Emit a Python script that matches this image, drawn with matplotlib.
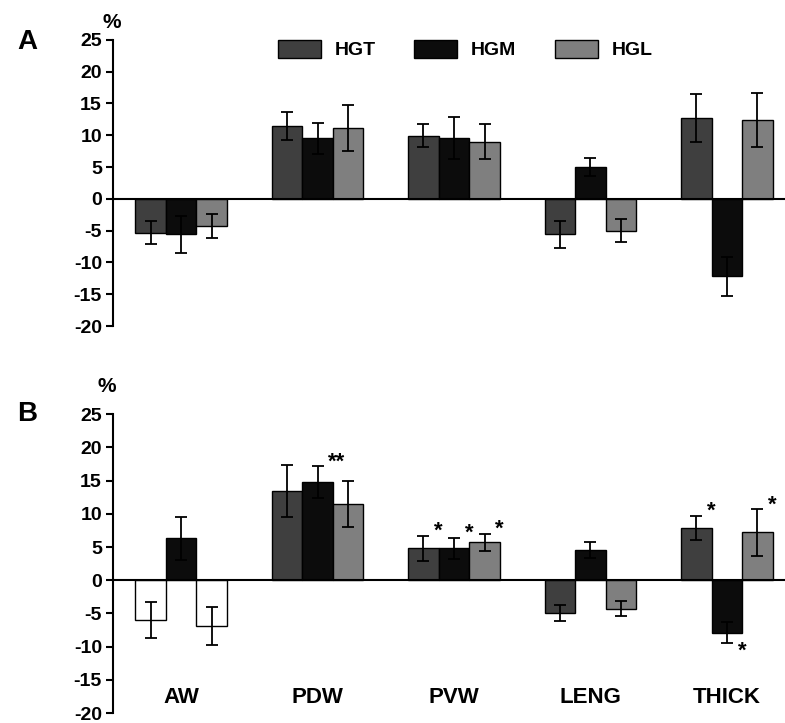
import numpy as np
import matplotlib
matplotlib.use("Agg")
import matplotlib.pyplot as plt
from matplotlib.patches import Patch

plt.rcParams["font.family"] = ["Liberation Sans", "DejaVu Sans"]
plt.rcParams["font.weight"] = "bold"
plt.rcParams["axes.unicode_minus"] = False

# data
categories = ["AW", "PDW", "PVW", "LENG", "THICK"]
series = ["HGT", "HGM", "HGL"]

# panel A
a_hgt = [-5.3, 11.4, 9.9, -5.6, 12.7]
a_hgt_err = [1.8, 2.2, 1.8, 2.1, 3.8]
a_hgm = [-5.6, 9.5, 9.5, 5.0, -12.2]
a_hgm_err = [2.9, 2.4, 3.3, 1.4, 3.0]
a_hgl = [-4.3, 11.1, 9.0, -5.0, 12.4]
a_hgl_err = [1.9, 3.6, 2.7, 1.8, 4.2]

# panel B
b_hgt = [-6.0, 13.4, 4.8, -5.0, 7.9]
b_hgt_err = [2.7, 3.9, 1.9, 1.2, 1.8]
b_hgm = [6.3, 14.8, 4.8, 4.5, -7.9]
b_hgm_err = [3.3, 2.4, 1.6, 1.2, 1.6]
b_hgl = [-6.9, 11.5, 5.7, -4.3, 7.2]
b_hgl_err = [2.8, 3.5, 1.3, 1.1, 3.5]

# significance marks in panel B: (category, series, text)
b_marks = [("PDW", "HGM", "**"),
           ("PVW", "HGT", "*"), ("PVW", "HGM", "*"), ("PVW", "HGL", "*"),
           ("THICK", "HGT", "*"), ("THICK", "HGM", "*"), ("THICK", "HGL", "*")]
# bars drawn hollow in panel B
b_hollow = [("AW", "HGT"), ("AW", "HGL")]

colors = {"HGT": "#3f3f3f", "HGM": "#0c0c0c", "HGL": "#7f7f7f"}
yticks = [-20, -15, -10, -5, 0, 5, 10, 15, 20, 25]

fig = plt.figure(figsize=(7.85, 7.23), dpi=100)
axA = fig.add_axes([0.144, 0.549, 0.856, 0.396])
axB = fig.add_axes([0.144, 0.0138, 0.856, 0.4132])

w = 0.2235
x = np.arange(len(categories))


def draw_panel(ax, vals, errs, hollow=(), marks=()):
    for i, s in enumerate(series):
        xs = x + (i - 1) * w
        fc = [("white" if (c, s) in hollow else colors[s]) for c in categories]
        ax.bar(xs, vals[i], width=w, color=fc, edgecolor="black", linewidth=1.0, zorder=2)
        ax.errorbar(xs, vals[i], yerr=errs[i], fmt="none", ecolor="black",
                    elinewidth=1.3, capsize=4, capthick=1.3, zorder=3)
    for c, s, txt in marks:
        ci = categories.index(c)
        si = series.index(s)
        v = vals[si][ci]
        e = errs[si][ci]
        xm = x[ci] + (si - 1) * w + 0.11 + 0.03 * (len(txt) - 1)
        if v >= 0:
            ax.annotate(txt, (xm, v + e), xytext=(0, 3), textcoords="offset points",
                        ha="center", va="center", fontsize=16)
        else:
            ax.annotate(txt, (xm, v - e), xytext=(0, -6), textcoords="offset points",
                        ha="center", va="center", fontsize=16)
    ax.axhline(0, color="black", linewidth=1.5, zorder=4)
    ax.set_xlim(-0.498, 4.425)
    ax.set_ylim(-20, 25)
    ax.set_yticks(yticks)
    ax.set_xticks([])
    for sp in ["top", "right", "bottom"]:
        ax.spines[sp].set_visible(False)
    ax.spines["left"].set_linewidth(1.5)
    ax.tick_params(axis="y", direction="out", length=5, width=1.5, pad=3, labelsize=14)


draw_panel(axA, [a_hgt, a_hgm, a_hgl], [a_hgt_err, a_hgm_err, a_hgl_err])
draw_panel(axB, [b_hgt, b_hgm, b_hgl], [b_hgt_err, b_hgm_err, b_hgl_err],
           hollow=b_hollow, marks=b_marks)

# category labels sit inside panel B near the bottom
for i, c in enumerate(categories):
    axB.text(x[i], -17.6, c, ha="center", va="center", fontsize=16)

handles = [Patch(facecolor=colors[s], edgecolor="black", linewidth=1.0) for s in series]
axA.legend(handles, series, loc="center", bbox_to_anchor=(0.524, 0.965), ncol=3,
           frameon=False, fontsize=14, handlelength=2.2, handleheight=1.0,
           handletextpad=0.7, columnspacing=2.0, borderpad=0)

fig.text(27 / 785, 1 - 42 / 723, "A", fontsize=20, ha="center", va="center")
fig.text(27 / 785, 1 - 414 / 723, "B", fontsize=20, ha="center", va="center")
fig.text(112 / 785, 1 - 22 / 723, "%", fontsize=15, ha="center", va="center")
fig.text(107 / 785, 1 - 387 / 723, "%", fontsize=15, ha="center", va="center")

fig.savefig("out.png", dpi=100)
